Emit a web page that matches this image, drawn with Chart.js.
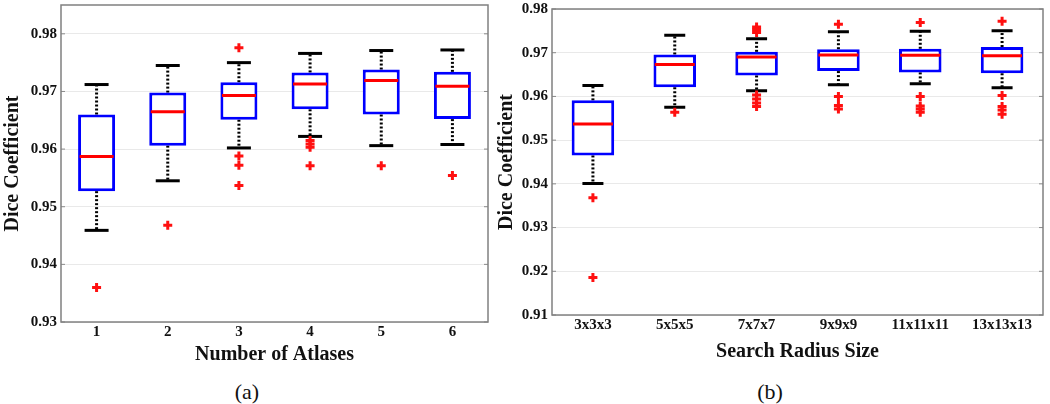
<!DOCTYPE html>
<html>
<head>
<meta charset="utf-8">
<script src="https://cdn.jsdelivr.net/npm/chart.js@4/dist/chart.umd.min.js"></script>
<style>
  body { margin: 0; background: #fff; }
  #wrap { position: relative; width: 1050px; height: 404px; overflow: hidden; }
  canvas { position: absolute; top: 0; }
  .cap { position: absolute; top: 379px; font-family: "Liberation Serif", serif; font-size: 22px; line-height: 26px; width: 60px; text-align: center; color: #111; }
</style>
</head>
<body>
<div id="wrap">
  <canvas id="chartA" width="500" height="370" style="left:0"></canvas>
  <canvas id="chartB" width="556" height="370" style="left:494px"></canvas>
  <div class="cap" style="left:217px">(a)</div>
  <div class="cap" style="left:740px">(b)</div>
</div>
<script>
// (a) number of atlases
const atlasLabels = ['1', '2', '3', '4', '5', '6'];
const atlasLow    = [0.9459, 0.9545, 0.9602, 0.9622, 0.9606, 0.9608];
const atlasQ1     = [0.9527, 0.9606, 0.9651, 0.9669, 0.9660, 0.9652];
const atlasMedian = [0.9587, 0.9665, 0.9693, 0.9713, 0.9719, 0.9709];
const atlasQ3     = [0.9660, 0.9698, 0.9716, 0.9733, 0.9738, 0.9734];
const atlasHigh   = [0.9712, 0.9745, 0.9750, 0.9766, 0.9771, 0.9772];
const atlasOutliers = [
  [0.9360],
  [0.9468],
  [0.9776, 0.9588, 0.9572, 0.9537],
  [0.9615, 0.9609, 0.9603, 0.9571],
  [0.9571],
  [0.9554]
];
const atlasTicks = [0.93, 0.94, 0.95, 0.96, 0.97, 0.98];

// (b) search radius size
const radiusLabels = ['3x3x3', '5x5x5', '7x7x7', '9x9x9', '11x11x11', '13x13x13'];
const radiusLow    = [0.9401, 0.9575, 0.9613, 0.9627, 0.9629, 0.9620];
const radiusQ1     = [0.9465, 0.9621, 0.9648, 0.9658, 0.9655, 0.9653];
const radiusMedian = [0.9537, 0.9673, 0.9690, 0.9695, 0.9694, 0.9693];
const radiusQ3     = [0.9591, 0.9696, 0.9702, 0.9708, 0.9709, 0.9713];
const radiusHigh   = [0.9625, 0.9740, 0.9732, 0.9748, 0.9749, 0.9750];
const radiusOutliers = [
  [0.9368, 0.9186],
  [0.9564],
  [0.9759, 0.9753, 0.9746, 0.9603, 0.9594, 0.9585, 0.9577],
  [0.9765, 0.9600, 0.9579, 0.9571],
  [0.9769, 0.9600, 0.9578, 0.9571, 0.9564],
  [0.9772, 0.9602, 0.9577, 0.9569, 0.9559]
];
const radiusTicks = [0.91, 0.92, 0.93, 0.94, 0.95, 0.96, 0.97, 0.98];

const serif = '"Liberation Serif", "Times New Roman", serif';

const boxExtras = {
  id: 'boxExtras',
  beforeDatasetsDraw(chart, args, opts) {
    const ctx = chart.ctx;
    const a = chart.chartArea;
    const x = chart.scales.x, y = chart.scales.y;
    function seg(x1, y1, x2, y2) { ctx.beginPath(); ctx.moveTo(x1, y1); ctx.lineTo(x2, y2); ctx.stroke(); }
    ctx.save();
    ctx.strokeStyle = '#8a8a8a';
    ctx.lineWidth = 1;
    y.ticks.forEach(t => {
      const py = y.getPixelForValue(t.value);
      seg(a.left, py, a.left + 4, py);
      seg(a.right - 4, py, a.right, py);
    });
    ctx.strokeStyle = '#000';
    ctx.lineWidth = 3;
    ctx.setLineDash([2, 2]);
    for (let i = 0; i < opts.low.length; i++) {
      const px = x.getPixelForValue(i);
      seg(px, y.getPixelForValue(opts.q1[i]), px, y.getPixelForValue(opts.low[i]));
      seg(px, y.getPixelForValue(opts.q3[i]), px, y.getPixelForValue(opts.high[i]));
    }
    ctx.restore();
  },
  afterDatasetsDraw(chart) {
    const ctx = chart.ctx;
    const a = chart.chartArea;
    ctx.save();
    ctx.strokeStyle = '#808080';
    ctx.lineWidth = 1.5;
    ctx.strokeRect(a.left, a.top, a.right - a.left, a.bottom - a.top);
    ctx.restore();
  }
};

function makeBoxChart(id, cfg) {
  let outlierPts = [];
  cfg.outliers.forEach((list, i) => list.forEach(v => outlierPts.push({x: cfg.labels[i], y: v})));
  return new Chart(id, {
    type: 'bar',
    data: {
      labels: cfg.labels,
      datasets: [
        {
          type: 'line', label: 'outliers', data: outlierPts, showLine: false, order: 0,
          pointStyle: 'cross', pointRadius: 4.5, pointBorderWidth: 3,
          pointBorderColor: '#ff1010', pointBackgroundColor: '#ff1010'
        },
        {
          type: 'line', label: 'median', data: cfg.median, showLine: false, order: 1,
          pointStyle: 'line', pointRadius: cfg.medR, pointBorderWidth: 3,
          pointBorderColor: '#ff0000'
        },
        {
          type: 'line', label: 'capHigh', data: cfg.high, showLine: false, order: 2,
          pointStyle: 'line', pointRadius: cfg.capR, pointBorderWidth: 3,
          pointBorderColor: '#000'
        },
        {
          type: 'line', label: 'capLow', data: cfg.low, showLine: false, order: 2,
          pointStyle: 'line', pointRadius: cfg.capR, pointBorderWidth: 3,
          pointBorderColor: '#000'
        },
        {
          label: 'box', data: cfg.q1.map((v, i) => [v, cfg.q3[i]]), order: 3,
          backgroundColor: '#ffffff', borderColor: '#0000ff', borderWidth: 3,
          borderSkipped: false, categoryPercentage: 1, barPercentage: 0.52
        }
      ]
    },
    options: {
      responsive: false,
      animation: false,
      devicePixelRatio: 1,
      layout: { autoPadding: false, padding: { top: cfg.padTop, right: cfg.padRight, left: 0, bottom: 0 } },
      plugins: {
        legend: { display: false },
        tooltip: { enabled: false },
        boxExtras: { low: cfg.low, q1: cfg.q1, q3: cfg.q3, high: cfg.high }
      },
      scales: {
        x: {
          grid: { display: false },
          border: { display: false },
          ticks: { padding: cfg.tickPad, color: '#111', font: { family: serif, size: 15, weight: 'bold' } },
          title: { display: true, text: cfg.xTitle, color: '#111', padding: { top: 0, bottom: cfg.titlePad },
                   font: { family: serif, size: 20, weight: 'bold' } },
          afterFit: s => { s.height = cfg.xHeight; s.paddingLeft = 0; s.paddingRight = 0; }
        },
        y: {
          min: cfg.min, max: cfg.max,
          afterBuildTicks: s => { s.ticks = cfg.ticks.map(v => ({value: v})); },
          grid: { color: '#e9e9e9', lineWidth: 1, drawTicks: false },
          border: { display: false },
          ticks: { padding: 4, color: '#111', font: { family: serif, size: 15, weight: 'bold' },
                   callback: v => v.toFixed(2) },
          title: { display: true, text: 'Dice Coefficient', color: '#111', padding: { top: 1, bottom: 0 },
                   font: { family: serif, size: 20, weight: 'bold' } },
          afterFit: s => { s.width = cfg.yWidth; s.paddingTop = 0; s.paddingBottom = 0; }
        }
      }
    },
    plugins: [boxExtras]
  });
}

let chartA = makeBoxChart('chartA', {
  labels: atlasLabels, low: atlasLow, q1: atlasQ1, median: atlasMedian, q3: atlasQ3, high: atlasHigh,
  outliers: atlasOutliers, ticks: atlasTicks, min: 0.93, max: 0.985,
  xTitle: 'Number of Atlases', medR: 17, capR: 12,
  padTop: 5, padRight: 12, xHeight: 48, yWidth: 61, titlePad: 3, tickPad: -7
});

let chartB = makeBoxChart('chartB', {
  labels: radiusLabels, low: radiusLow, q1: radiusQ1, median: radiusMedian, q3: radiusQ3, high: radiusHigh,
  outliers: radiusOutliers, ticks: radiusTicks, min: 0.91, max: 0.98,
  xTitle: 'Search Radius Size', medR: 20, capR: 10.5,
  padTop: 9, padRight: 7, xHeight: 55, yWidth: 58, titlePad: 6, tickPad: -7
});
</script>
</body>
</html>
